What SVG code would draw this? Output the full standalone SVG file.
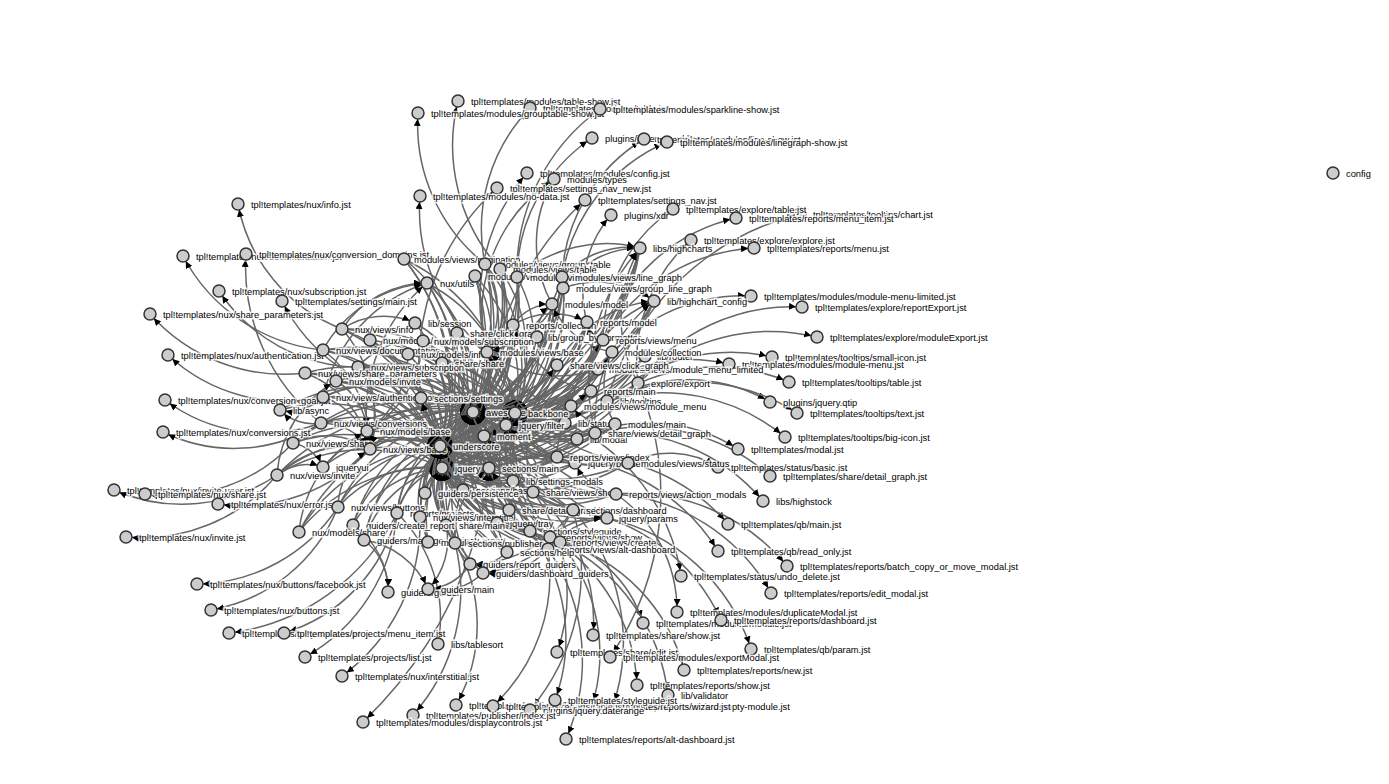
<svg xmlns="http://www.w3.org/2000/svg" width="1389" height="784" viewBox="0 0 1389 784">
<style>
#edges path{fill:none;stroke:#666;stroke-width:1.5px;marker-end:url(#arr)}
circle{fill:#ccc;stroke:#333;stroke-width:1.5px}
text{font-family:"Liberation Sans",Arial,sans-serif;font-size:9.3px;fill:#000;stroke:#fff;stroke-width:3px;stroke-opacity:.8;paint-order:stroke}
</style>
<defs>
<marker id="arr" viewBox="0 -5 10 10" refX="18.5" refY="0" markerWidth="7" markerHeight="7" markerUnits="userSpaceOnUse" orient="auto"><path d="M0,-5L10,0L0,5" fill="#000"/></marker>
</defs>
<rect width="1389" height="784" fill="#fff"/>
<g id="edges">
<path d="M342,329A164,164 0 0 1 473,412"/><path d="M342,329A207,207 0 0 1 515,413"/><path d="M342,329A156,156 0 0 1 440,446"/><path d="M342,329A179,179 0 0 1 442,468"/>
<path d="M323,350A175,175 0 0 1 473,412"/><path d="M323,350A217,217 0 0 1 515,413"/><path d="M323,350A155,155 0 0 1 440,446"/><path d="M323,350A166,166 0 0 1 442,468"/>
<path d="M370,340A132,132 0 0 1 473,412"/><path d="M370,340A134,134 0 0 1 440,446"/><path d="M370,340A157,157 0 0 1 442,468"/>
<path d="M423,341A91,91 0 0 1 473,412"/><path d="M423,341A121,121 0 0 1 515,413"/><path d="M423,341A112,112 0 0 1 440,446"/><path d="M423,341A135,135 0 0 1 442,468"/>
<path d="M408,354A88,88 0 0 1 473,412"/><path d="M408,354A131,131 0 0 1 515,413"/><path d="M408,354A105,105 0 0 1 440,446"/><path d="M408,354A128,128 0 0 1 442,468"/>
<path d="M358,367A133,133 0 0 1 473,412"/><path d="M358,367A175,175 0 0 1 515,413"/><path d="M358,367A114,114 0 0 1 440,446"/><path d="M358,367A135,135 0 0 1 442,468"/>
<path d="M305,373A184,184 0 0 1 473,412"/><path d="M305,373A164,164 0 0 1 440,446"/><path d="M305,373A175,175 0 0 1 442,468"/>
<path d="M336,381A149,149 0 0 1 473,412"/><path d="M336,381A130,130 0 0 1 440,446"/><path d="M336,381A141,141 0 0 1 442,468"/>
<path d="M323,397A156,156 0 0 1 473,412"/><path d="M323,397A198,198 0 0 1 515,413"/><path d="M323,397A137,137 0 0 1 440,446"/><path d="M323,397A147,147 0 0 1 442,468"/>
<path d="M421,398A58,58 0 0 1 473,412"/><path d="M421,398A100,100 0 0 1 515,413"/><path d="M421,398A56,56 0 0 1 440,446"/><path d="M421,398A78,78 0 0 1 442,468"/>
<path d="M280,410A194,194 0 0 1 473,412"/><path d="M280,410A174,174 0 0 1 440,446"/>
<path d="M321,423A156,156 0 0 1 473,412"/><path d="M321,423A128,128 0 0 1 440,446"/><path d="M321,423A139,139 0 0 1 442,468"/>
<path d="M367,431A114,114 0 0 1 473,412"/><path d="M367,431A155,155 0 0 1 515,413"/><path d="M367,431A79,79 0 0 1 440,446"/><path d="M367,431A90,90 0 0 1 442,468"/>
<path d="M370,449A118,118 0 0 1 473,412"/><path d="M370,449A159,159 0 0 1 515,413"/><path d="M370,449A71,71 0 0 1 440,446"/><path d="M370,449A80,80 0 0 1 442,468"/>
<path d="M293,443A192,192 0 0 1 473,412"/><path d="M293,443A148,148 0 0 1 440,446"/><path d="M293,443A159,159 0 0 1 442,468"/>
<path d="M323,467A172,172 0 0 1 473,412"/><path d="M323,467A125,125 0 0 1 440,446"/>
<path d="M277,475A221,221 0 0 1 473,412"/><path d="M277,475A175,175 0 0 1 440,446"/><path d="M277,475A168,168 0 0 1 442,468"/>
<path d="M338,507A173,173 0 0 1 473,412"/><path d="M338,507A126,126 0 0 1 440,446"/><path d="M338,507A120,120 0 0 1 442,468"/>
<path d="M299,532A222,222 0 0 1 473,412"/><path d="M299,532A175,175 0 0 1 440,446"/><path d="M299,532A169,169 0 0 1 442,468"/>
<path d="M353,525A165,165 0 0 1 473,412"/><path d="M353,525A119,119 0 0 1 440,446"/><path d="M353,525A112,112 0 0 1 442,468"/>
<path d="M364,540A172,172 0 0 1 473,412"/><path d="M364,540A124,124 0 0 1 440,446"/><path d="M364,540A109,109 0 0 1 442,468"/>
<path d="M397,513A131,131 0 0 1 473,412"/><path d="M397,513A158,158 0 0 1 515,413"/><path d="M397,513A84,84 0 0 1 440,446"/><path d="M397,513A63,63 0 0 1 442,468"/>
<path d="M420,517A126,126 0 0 1 473,412"/><path d="M420,517A79,79 0 0 1 440,446"/><path d="M420,517A58,58 0 0 1 442,468"/>
<path d="M427,283A147,147 0 0 1 473,412"/><path d="M427,283A165,165 0 0 1 515,413"/><path d="M427,283A168,168 0 0 1 440,446"/><path d="M427,283A191,191 0 0 1 442,468"/>
<path d="M404,259A181,181 0 0 1 473,412"/><path d="M404,259A198,198 0 0 1 515,413"/><path d="M404,259A201,201 0 0 1 440,446"/><path d="M404,259A224,224 0 0 1 442,468"/>
<path d="M415,323A112,112 0 0 1 473,412"/><path d="M415,323A133,133 0 0 1 440,446"/>
<path d="M457,333A85,85 0 0 1 473,412"/><path d="M457,333A103,103 0 0 1 515,413"/><path d="M457,333A120,120 0 0 1 440,446"/><path d="M457,333A141,141 0 0 1 442,468"/>
<path d="M442,363A61,61 0 0 1 473,412"/><path d="M442,363A93,93 0 0 1 515,413"/><path d="M442,363A84,84 0 0 1 440,446"/><path d="M442,363A105,105 0 0 1 442,468"/>
<path d="M485,264A153,153 0 0 1 473,412"/><path d="M485,264A161,161 0 0 1 515,413"/><path d="M485,264A200,200 0 0 1 440,446"/><path d="M485,264A221,221 0 0 1 442,468"/>
<path d="M500,269A154,154 0 0 1 473,412"/><path d="M500,269A150,150 0 0 1 515,413"/><path d="M500,269A201,201 0 0 1 440,446"/><path d="M500,269A222,222 0 0 1 442,468"/>
<path d="M475,276A137,137 0 0 1 473,412"/><path d="M475,276A153,153 0 0 1 515,413"/><path d="M475,276A184,184 0 0 1 440,446"/><path d="M475,276A205,205 0 0 1 442,468"/>
<path d="M517,277A153,153 0 0 1 473,412"/><path d="M517,277A137,137 0 0 1 515,413"/><path d="M517,277A200,200 0 0 1 440,446"/><path d="M517,277A221,221 0 0 1 442,468"/>
<path d="M562,277A171,171 0 0 1 473,412"/><path d="M562,277A155,155 0 0 1 515,413"/><path d="M562,277A218,218 0 0 1 440,446"/>
<path d="M563,288A160,160 0 0 1 473,412"/><path d="M563,288A144,144 0 0 1 515,413"/><path d="M563,288A207,207 0 0 1 440,446"/><path d="M563,288A228,228 0 0 1 442,468"/>
<path d="M552,304A140,140 0 0 1 473,412"/><path d="M552,304A124,124 0 0 1 515,413"/><path d="M552,304A187,187 0 0 1 440,446"/><path d="M552,304A208,208 0 0 1 442,468"/>
<path d="M654,301A225,225 0 0 1 473,412"/><path d="M654,301A184,184 0 0 1 515,413"/><path d="M654,301A272,272 0 0 1 440,446"/>
<path d="M640,248A233,233 0 0 1 473,412"/><path d="M640,248A215,215 0 0 1 515,413"/><path d="M640,248A280,280 0 0 1 440,446"/><path d="M640,248A299,299 0 0 1 442,468"/>
<path d="M513,325A103,103 0 0 1 473,412"/><path d="M513,325A89,89 0 0 1 515,413"/><path d="M513,325A150,150 0 0 1 440,446"/><path d="M513,325A171,171 0 0 1 442,468"/>
<path d="M587,322A150,150 0 0 1 473,412"/><path d="M587,322A120,120 0 0 1 515,413"/><path d="M587,322A197,197 0 0 1 440,446"/><path d="M587,322A204,204 0 0 1 442,468"/>
<path d="M537,337A101,101 0 0 1 473,412"/><path d="M537,337A85,85 0 0 1 515,413"/><path d="M537,337A148,148 0 0 1 440,446"/>
<path d="M603,340A159,159 0 0 1 473,412"/><path d="M603,340A117,117 0 0 1 515,413"/><path d="M603,340A205,205 0 0 1 440,446"/><path d="M603,340A225,225 0 0 1 442,468"/>
<path d="M487,352A66,66 0 0 1 473,412"/><path d="M487,352A72,72 0 0 1 515,413"/><path d="M487,352A113,113 0 0 1 440,446"/><path d="M487,352A134,134 0 0 1 442,468"/>
<path d="M612,352A163,163 0 0 1 473,412"/><path d="M612,352A121,121 0 0 1 515,413"/><path d="M612,352A210,210 0 0 1 440,446"/><path d="M612,352A216,216 0 0 1 442,468"/>
<path d="M557,365A103,103 0 0 1 473,412"/><path d="M557,365A65,65 0 0 1 515,413"/><path d="M557,365A149,149 0 0 1 440,446"/><path d="M557,365A156,156 0 0 1 442,468"/>
<path d="M598,369A142,142 0 0 1 473,412"/><path d="M598,369A101,101 0 0 1 515,413"/><path d="M598,369A189,189 0 0 1 440,446"/>
<path d="M645,356A194,194 0 0 1 473,412"/><path d="M645,356A153,153 0 0 1 515,413"/><path d="M645,356A241,241 0 0 1 440,446"/><path d="M645,356A248,248 0 0 1 442,468"/>
<path d="M638,383A177,177 0 0 1 473,412"/><path d="M638,383A135,135 0 0 1 515,413"/><path d="M638,383A223,223 0 0 1 440,446"/><path d="M638,383A230,230 0 0 1 442,468"/>
<path d="M591,391A126,126 0 0 1 473,412"/><path d="M591,391A85,85 0 0 1 515,413"/><path d="M591,391A173,173 0 0 1 440,446"/><path d="M591,391A180,180 0 0 1 442,468"/>
<path d="M607,401A138,138 0 0 1 473,412"/><path d="M607,401A97,97 0 0 1 515,413"/><path d="M607,401A185,185 0 0 1 440,446"/><path d="M607,401A192,192 0 0 1 442,468"/>
<path d="M571,406A100,100 0 0 1 473,412"/><path d="M571,406A59,59 0 0 1 515,413"/><path d="M571,406A147,147 0 0 1 440,446"/><path d="M571,406A154,154 0 0 1 442,468"/>
<path d="M565,423A96,96 0 0 1 473,412"/><path d="M565,423A54,54 0 0 1 515,413"/><path d="M565,423A134,134 0 0 1 440,446"/>
<path d="M615,424A147,147 0 0 1 473,412"/><path d="M615,424A104,104 0 0 1 515,413"/><path d="M615,424A184,184 0 0 1 440,446"/><path d="M615,424A191,191 0 0 1 442,468"/>
<path d="M595,433A130,130 0 0 1 473,412"/><path d="M595,433A88,88 0 0 1 515,413"/><path d="M595,433A160,160 0 0 1 440,446"/><path d="M595,433A167,167 0 0 1 442,468"/>
<path d="M577,439A115,115 0 0 1 473,412"/><path d="M577,439A72,72 0 0 1 515,413"/><path d="M577,439A140,140 0 0 1 440,446"/><path d="M577,439A147,147 0 0 1 442,468"/>
<path d="M557,457A102,102 0 0 1 473,412"/><path d="M557,457A60,60 0 0 1 515,413"/><path d="M557,457A121,121 0 0 1 440,446"/><path d="M557,457A119,119 0 0 1 442,468"/>
<path d="M575,463A122,122 0 0 1 473,412"/><path d="M575,463A80,80 0 0 1 515,413"/><path d="M575,463A142,142 0 0 1 440,446"/><path d="M575,463A135,135 0 0 1 442,468"/>
<path d="M628,463A175,175 0 0 1 473,412"/><path d="M628,463A133,133 0 0 1 515,413"/><path d="M628,463A195,195 0 0 1 440,446"/><path d="M628,463A188,188 0 0 1 442,468"/>
<path d="M489,468A62,62 0 0 1 473,412"/><path d="M489,468A65,65 0 0 1 515,413"/><path d="M489,468A58,58 0 0 1 440,446"/><path d="M489,468A47,47 0 0 1 442,468"/>
<path d="M513,481A85,85 0 0 1 473,412"/><path d="M513,481A69,69 0 0 1 515,413"/><path d="M513,481A87,87 0 0 1 440,446"/><path d="M513,481A76,76 0 0 1 442,468"/>
<path d="M463,490A82,82 0 0 1 473,412"/><path d="M463,490A98,98 0 0 1 515,413"/><path d="M463,490A53,53 0 0 1 440,446"/><path d="M463,490A30,30 0 0 1 442,468"/>
<path d="M425,493A100,100 0 0 1 473,412"/><path d="M425,493A122,122 0 0 1 515,413"/><path d="M425,493A53,53 0 0 1 440,446"/><path d="M425,493A32,32 0 0 1 442,468"/>
<path d="M533,492A104,104 0 0 1 473,412"/><path d="M533,492A86,86 0 0 1 515,413"/><path d="M533,492A111,111 0 0 1 440,446"/><path d="M533,492A101,101 0 0 1 442,468"/>
<path d="M616,494A176,176 0 0 1 473,412"/><path d="M616,494A133,133 0 0 1 515,413"/><path d="M616,494A195,195 0 0 1 440,446"/><path d="M616,494A184,184 0 0 1 442,468"/>
<path d="M509,510A112,112 0 0 1 473,412"/><path d="M509,510A99,99 0 0 1 515,413"/><path d="M509,510A95,95 0 0 1 440,446"/><path d="M509,510A84,84 0 0 1 442,468"/>
<path d="M573,510A140,140 0 0 1 473,412"/><path d="M573,510A120,120 0 0 1 515,413"/><path d="M573,510A159,159 0 0 1 440,446"/><path d="M573,510A148,148 0 0 1 442,468"/>
<path d="M607,518A176,176 0 0 1 473,412"/><path d="M607,518A142,142 0 0 1 515,413"/><path d="M607,518A196,196 0 0 1 440,446"/><path d="M607,518A185,185 0 0 1 442,468"/>
<path d="M446,525A124,124 0 0 1 473,412"/><path d="M446,525A140,140 0 0 1 515,413"/><path d="M446,525A81,81 0 0 1 440,446"/><path d="M446,525A59,59 0 0 1 442,468"/>
<path d="M530,531A142,142 0 0 1 473,412"/><path d="M530,531A124,124 0 0 1 515,413"/><path d="M530,531A124,124 0 0 1 440,446"/><path d="M530,531A113,113 0 0 1 442,468"/>
<path d="M550,537A156,156 0 0 1 473,412"/><path d="M550,537A138,138 0 0 1 515,413"/><path d="M550,537A146,146 0 0 1 440,446"/><path d="M550,537A136,136 0 0 1 442,468"/>
<path d="M560,542A165,165 0 0 1 473,412"/><path d="M560,542A147,147 0 0 1 515,413"/><path d="M560,542A158,158 0 0 1 440,446"/><path d="M560,542A148,148 0 0 1 442,468"/>
<path d="M455,543A138,138 0 0 1 473,412"/><path d="M455,543A154,154 0 0 1 515,413"/><path d="M455,543A103,103 0 0 1 440,446"/><path d="M455,543A80,80 0 0 1 442,468"/>
<path d="M428,542A148,148 0 0 1 473,412"/><path d="M428,542A101,101 0 0 1 440,446"/><path d="M428,542A80,80 0 0 1 442,468"/>
<path d="M507,552A154,154 0 0 1 473,412"/><path d="M507,552A142,142 0 0 1 515,413"/><path d="M507,552A133,133 0 0 1 440,446"/><path d="M507,552A110,110 0 0 1 442,468"/>
<path d="M548,549A167,167 0 0 1 473,412"/><path d="M548,549A149,149 0 0 1 515,413"/><path d="M548,549A149,149 0 0 1 440,446"/><path d="M548,549A138,138 0 0 1 442,468"/>
<path d="M497,523A121,121 0 0 1 473,412"/><path d="M497,523A117,117 0 0 1 515,413"/><path d="M497,523A100,100 0 0 1 440,446"/><path d="M497,523A77,77 0 0 1 442,468"/>
<path d="M470,564A153,153 0 0 1 473,412"/><path d="M470,564A107,107 0 0 1 442,468"/><path d="M483,573A121,121 0 0 1 442,468"/>
<path d="M484,436A28,28 0 0 1 473,412"/><path d="M484,436A48,48 0 0 1 440,446"/><path d="M484,436A40,40 0 0 1 515,413"/>
<path d="M506,425A38,38 0 0 1 473,412"/><path d="M506,425A16,16 0 0 1 515,413"/><path d="M506,425A74,74 0 0 1 440,446"/>
<path d="M573,510A119,119 0 0 1 484,436"/><path d="M557,457A81,81 0 0 1 484,436"/><path d="M587,322A155,155 0 0 1 484,436"/><path d="M616,494A155,155 0 0 1 484,436"/><path d="M560,542A136,136 0 0 1 484,436"/>
<path d="M628,463A137,137 0 0 1 506,425"/><path d="M557,457A64,64 0 0 1 506,425"/><path d="M550,537A130,130 0 0 1 506,425"/><path d="M573,510A112,112 0 0 1 506,425"/><path d="M603,340A131,131 0 0 1 506,425"/>
<path d="M500,269A185,185 0 0 1 458,101"/><path d="M485,264A178,178 0 0 1 418,113"/><path d="M485,264A174,174 0 0 1 530,108"/><path d="M517,277A201,201 0 0 1 600,109"/><path d="M517,277A169,169 0 0 1 592,138"/>
<path d="M562,277A171,171 0 0 1 644,139"/><path d="M562,277A177,177 0 0 1 667,142"/><path d="M487,352A195,195 0 0 1 527,173"/><path d="M552,304A126,126 0 0 1 554,179"/><path d="M487,352A160,160 0 0 1 554,179"/>
<path d="M421,398A240,240 0 0 1 497,188"/><path d="M487,352A183,183 0 0 1 420,196"/><path d="M489,468A306,306 0 0 1 585,200"/><path d="M587,322A117,117 0 0 1 611,215"/><path d="M603,340A159,159 0 0 1 673,209"/>
<path d="M603,340A182,182 0 0 1 736,218"/><path d="M607,401A268,268 0 0 1 800,214"/><path d="M638,383A164,164 0 0 1 691,240"/><path d="M603,340A188,188 0 0 1 754,248"/><path d="M598,369A182,182 0 0 1 751,296"/>
<path d="M638,383A194,194 0 0 1 802,307"/><path d="M638,383A197,197 0 0 1 817,337"/><path d="M607,401A183,183 0 0 1 772,357"/><path d="M571,406A175,175 0 0 1 729,364"/><path d="M607,401A190,190 0 0 1 789,382"/>
<path d="M607,401A163,163 0 0 1 770,402"/><path d="M607,401A195,195 0 0 1 797,413"/><path d="M607,401A192,192 0 0 1 785,437"/><path d="M577,439A165,165 0 0 1 738,449"/><path d="M628,463A92,92 0 0 1 718,467"/>
<path d="M595,433A192,192 0 0 1 770,476"/><path d="M595,433A195,195 0 0 1 763,501"/><path d="M557,457A198,198 0 0 1 728,524"/><path d="M557,457A199,199 0 0 1 718,551"/><path d="M616,494A200,200 0 0 1 787,566"/>
<path d="M565,423A199,199 0 0 1 681,576"/><path d="M616,494A195,195 0 0 1 771,593"/><path d="M616,494A142,142 0 0 1 677,612"/><path d="M550,537A127,127 0 0 1 643,623"/><path d="M573,510A192,192 0 0 1 721,620"/>
<path d="M607,518A196,196 0 0 1 751,649"/><path d="M533,492A167,167 0 0 1 593,635"/><path d="M533,492A170,170 0 0 1 557,652"/><path d="M638,383A285,285 0 0 1 610,657"/><path d="M560,542A178,178 0 0 1 684,670"/>
<path d="M550,537A183,183 0 0 1 637,685"/><path d="M560,542A196,196 0 0 1 668,695"/><path d="M530,531A179,179 0 0 1 555,700"/><path d="M560,542A177,177 0 0 1 592,706"/><path d="M573,510A200,200 0 0 1 613,706"/>
<path d="M455,543A162,162 0 0 1 456,705"/><path d="M548,549A179,179 0 0 1 493,706"/><path d="M573,510A217,217 0 0 1 530,710"/><path d="M455,543A189,189 0 0 1 413,715"/><path d="M487,352A420,420 0 0 1 363,722"/>
<path d="M548,549A197,197 0 0 1 566,739"/><path d="M338,507A172,172 0 0 1 197,584"/><path d="M338,507A168,168 0 0 1 211,610"/><path d="M397,513A216,216 0 0 1 229,633"/><path d="M397,513A165,165 0 0 1 284,633"/>
<path d="M397,513A181,181 0 0 1 305,657"/><path d="M420,517A190,190 0 0 1 342,676"/><path d="M397,513A147,147 0 0 1 438,644"/>
<path d="M353,525A81,81 0 0 1 388,592"/><path d="M364,540A62,62 0 0 1 388,592"/><path d="M470,564A52,52 0 0 1 428,589"/><path d="M483,573A61,61 0 0 1 428,589"/><path d="M364,540A84,84 0 0 1 428,589"/><path d="M446,525A71,71 0 0 1 428,589"/>
<path d="M573,510A125,125 0 0 1 470,564"/><path d="M507,552A42,42 0 0 1 470,564"/><path d="M573,510A115,115 0 0 1 483,573"/><path d="M548,549A75,75 0 0 1 483,573"/>
<path d="M342,329A167,167 0 0 1 238,204"/><path d="M323,350A178,178 0 0 1 183,256"/><path d="M321,423A199,199 0 0 1 246,254"/><path d="M358,367A169,169 0 0 1 219,291"/><path d="M421,398A178,178 0 0 1 282,301"/>
<path d="M305,373A179,179 0 0 1 150,314"/><path d="M323,397A172,172 0 0 1 168,355"/><path d="M321,423A165,165 0 0 1 165,400"/><path d="M321,423A162,162 0 0 1 163,432"/><path d="M277,475A169,169 0 0 1 114,490"/>
<path d="M293,443A168,168 0 0 1 145,494"/><path d="M370,449A174,174 0 0 1 218,504"/><path d="M277,475A176,176 0 0 1 126,537"/>
<path d="M342,329A131,131 0 0 1 370,449"/><path d="M342,329A103,103 0 0 1 427,283"/><path d="M323,350A118,118 0 0 1 370,449"/><path d="M323,350A131,131 0 0 1 427,283"/><path d="M358,367A87,87 0 0 1 370,449"/>
<path d="M358,367A75,75 0 0 1 423,341"/><path d="M305,373A102,102 0 0 1 370,449"/><path d="M336,381A62,62 0 0 1 367,431"/><path d="M323,397A71,71 0 0 1 370,449"/><path d="M323,397A156,156 0 0 1 427,283"/>
<path d="M321,423A59,59 0 0 1 370,449"/><path d="M321,423A49,49 0 0 1 367,431"/><path d="M293,443A79,79 0 0 1 370,449"/><path d="M277,475A103,103 0 0 1 370,449"/><path d="M277,475A118,118 0 0 1 336,381"/>
<path d="M338,507A71,71 0 0 1 370,449"/><path d="M299,532A128,128 0 0 1 367,431"/><path d="M277,475A49,49 0 0 1 323,467"/><path d="M293,443A42,42 0 0 1 323,467"/><path d="M321,423A46,46 0 0 1 280,410"/>
<path d="M323,397A48,48 0 0 1 280,410"/><path d="M367,431A172,172 0 0 1 427,283"/><path d="M408,354A93,93 0 0 1 367,431"/><path d="M423,341A112,112 0 0 1 367,431"/><path d="M342,329A75,75 0 0 1 415,323"/>
<path d="M500,269A88,88 0 0 1 487,352"/><path d="M485,264A89,89 0 0 1 487,352"/><path d="M517,277A87,87 0 0 1 487,352"/><path d="M562,277A105,105 0 0 1 487,352"/><path d="M563,288A102,102 0 0 1 487,352"/>
<path d="M563,288A96,96 0 0 1 654,301"/><path d="M562,277A90,90 0 0 1 640,248"/><path d="M563,288A93,93 0 0 1 640,248"/><path d="M517,277A135,135 0 0 1 640,248"/><path d="M513,325A75,75 0 0 1 587,322"/>
<path d="M513,325A47,47 0 0 1 552,304"/><path d="M603,340A25,25 0 0 1 587,322"/><path d="M612,352A79,79 0 0 1 552,304"/><path d="M591,391A56,56 0 0 1 603,340"/><path d="M591,391A104,104 0 0 1 513,325"/>
<path d="M615,424A73,73 0 0 1 612,352"/><path d="M615,424A51,51 0 0 1 571,406"/><path d="M571,406A106,106 0 0 1 487,352"/><path d="M571,406A138,138 0 0 1 654,301"/><path d="M638,383A136,136 0 0 1 640,248"/>
<path d="M598,369A118,118 0 0 1 487,352"/><path d="M628,463A185,185 0 0 1 487,352"/><path d="M557,457A80,80 0 0 1 591,391"/><path d="M595,433A156,156 0 0 1 654,301"/><path d="M595,433A203,203 0 0 1 640,248"/>
<path d="M557,365A123,123 0 0 1 654,301"/><path d="M537,337A39,39 0 0 1 552,304"/><path d="M489,468A97,97 0 0 1 421,398"/><path d="M513,481A125,125 0 0 1 421,398"/><path d="M573,510A101,101 0 0 1 489,468"/>
<path d="M530,531A79,79 0 0 1 489,468"/><path d="M507,552A91,91 0 0 1 489,468"/><path d="M455,543A89,89 0 0 1 489,468"/><path d="M533,492A189,189 0 0 1 457,333"/><path d="M533,492A137,137 0 0 1 557,365"/>
<path d="M573,510A37,37 0 0 1 607,518"/><path d="M548,549A83,83 0 0 1 607,518"/><path d="M550,537A80,80 0 0 1 607,518"/><path d="M616,494A57,57 0 0 1 575,463"/>
</g>
<g id="n-t1"><circle cx="458" cy="101" r="6"/><text x="471" y="104.5">tpl!templates/modules/table-show.jst</text></g>
<g id="n-t3"><circle cx="530" cy="108" r="6"/><text x="543" y="111.5">tpl!templates/modules/table.jst</text></g>
<g id="n-t2"><circle cx="418" cy="113" r="6"/><text x="431" y="116.5">tpl!templates/modules/grouptable-show.jst</text></g>
<g id="n-t4"><circle cx="600" cy="109" r="6"/><text x="613" y="112.5">tpl!templates/modules/sparkline-show.jst</text></g>
<g id="n-t5"><circle cx="592" cy="138" r="6"/><text x="605" y="141.5">plugins/jquery.sparkline</text></g>
<g id="n-t6"><circle cx="644" cy="139" r="6"/><text x="657" y="142.5">tpl!templates/modules/line-show.jst</text></g>
<g id="n-t7"><circle cx="667" cy="142" r="6"/><text x="680" y="145.5">tpl!templates/modules/linegraph-show.jst</text></g>
<g id="n-t8"><circle cx="527" cy="173" r="6"/><text x="540" y="176.5">tpl!templates/modules/config.jst</text></g>
<g id="n-t9"><circle cx="554" cy="179" r="6"/><text x="567" y="182.5">modules/types</text></g>
<g id="n-t10"><circle cx="497" cy="188" r="6"/><text x="510" y="191.5">tpl!templates/settings_nav_new.jst</text></g>
<g id="n-t11"><circle cx="420" cy="196" r="6"/><text x="433" y="199.5">tpl!templates/modules/no-data.jst</text></g>
<g id="n-t12"><circle cx="585" cy="200" r="6"/><text x="598" y="203.5">tpl!templates/settings_nav.jst</text></g>
<g id="n-t13"><circle cx="611" cy="215" r="6"/><text x="624" y="218.5">plugins/xdr</text></g>
<g id="n-t16"><circle cx="800" cy="214" r="6"/><text x="813" y="217.5">tpl!templates/tooltips/chart.jst</text></g>
<g id="n-t14"><circle cx="673" cy="209" r="6"/><text x="686" y="212.5">tpl!templates/explore/table.jst</text></g>
<g id="n-t15"><circle cx="736" cy="218" r="6"/><text x="749" y="221.5">tpl!templates/reports/menu_item.jst</text></g>
<g id="n-t17"><circle cx="691" cy="240" r="6"/><text x="704" y="243.5">tpl!templates/explore/explore.jst</text></g>
<g id="n-t18"><circle cx="754" cy="248" r="6"/><text x="767" y="251.5">tpl!templates/reports/menu.jst</text></g>
<g id="n-t19"><circle cx="751" cy="296" r="6"/><text x="764" y="299.5">tpl!templates/modules/module-menu-limited.jst</text></g>
<g id="n-t20"><circle cx="802" cy="307" r="6"/><text x="815" y="310.5">tpl!templates/explore/reportExport.jst</text></g>
<g id="n-t21"><circle cx="817" cy="337" r="6"/><text x="830" y="340.5">tpl!templates/explore/moduleExport.jst</text></g>
<g id="n-t22"><circle cx="772" cy="357" r="6"/><text x="785" y="360.5">tpl!templates/tooltips/small-icon.jst</text></g>
<g id="n-t23"><circle cx="729" cy="364" r="6"/><text x="742" y="367.5">tpl!templates/modules/module-menu.jst</text></g>
<g id="n-t24"><circle cx="789" cy="382" r="6"/><text x="802" y="385.5">tpl!templates/tooltips/table.jst</text></g>
<g id="n-t25"><circle cx="770" cy="402" r="6"/><text x="783" y="405.5">plugins/jquery.qtip</text></g>
<g id="n-t26"><circle cx="797" cy="413" r="6"/><text x="810" y="416.5">tpl!templates/tooltips/text.jst</text></g>
<g id="n-t27"><circle cx="785" cy="437" r="6"/><text x="798" y="440.5">tpl!templates/tooltips/big-icon.jst</text></g>
<g id="n-t28"><circle cx="738" cy="449" r="6"/><text x="751" y="452.5">tpl!templates/modal.jst</text></g>
<g id="n-t29"><circle cx="718" cy="467" r="6"/><text x="731" y="470.5">tpl!templates/status/basic.jst</text></g>
<g id="n-t30"><circle cx="770" cy="476" r="6"/><text x="783" y="479.5">tpl!templates/share/detail_graph.jst</text></g>
<g id="n-t31"><circle cx="763" cy="501" r="6"/><text x="776" y="504.5">libs/highstock</text></g>
<g id="n-t32"><circle cx="728" cy="524" r="6"/><text x="741" y="527.5">tpl!templates/qb/main.jst</text></g>
<g id="n-t33"><circle cx="718" cy="551" r="6"/><text x="731" y="554.5">tpl!templates/qb/read_only.jst</text></g>
<g id="n-t34"><circle cx="787" cy="566" r="6"/><text x="800" y="569.5">tpl!templates/reports/batch_copy_or_move_modal.jst</text></g>
<g id="n-t35"><circle cx="681" cy="576" r="6"/><text x="694" y="579.5">tpl!templates/status/undo_delete.jst</text></g>
<g id="n-t36"><circle cx="771" cy="593" r="6"/><text x="784" y="596.5">tpl!templates/reports/edit_modal.jst</text></g>
<g id="n-t37"><circle cx="677" cy="612" r="6"/><text x="690" y="615.5">tpl!templates/modules/duplicateModal.jst</text></g>
<g id="n-t38"><circle cx="643" cy="623" r="6"/><text x="656" y="626.5">tpl!templates/modules/module.jst</text></g>
<g id="n-t39"><circle cx="721" cy="620" r="6"/><text x="734" y="623.5">tpl!templates/reports/dashboard.jst</text></g>
<g id="n-t40"><circle cx="751" cy="649" r="6"/><text x="764" y="652.5">tpl!templates/qb/param.jst</text></g>
<g id="n-t41"><circle cx="593" cy="635" r="6"/><text x="606" y="638.5">tpl!templates/share/show.jst</text></g>
<g id="n-t42"><circle cx="557" cy="652" r="6"/><text x="570" y="655.5">tpl!templates/share/edit.jst</text></g>
<g id="n-t43"><circle cx="610" cy="657" r="6"/><text x="623" y="660.5">tpl!templates/modules/exportModal.jst</text></g>
<g id="n-t44"><circle cx="684" cy="670" r="6"/><text x="697" y="673.5">tpl!templates/reports/new.jst</text></g>
<g id="n-t45"><circle cx="637" cy="685" r="6"/><text x="650" y="688.5">tpl!templates/reports/show.jst</text></g>
<g id="n-t46"><circle cx="668" cy="695" r="6"/><text x="681" y="698.5">lib/validator</text></g>
<g id="n-t48b"><circle cx="613" cy="706" r="6"/><text x="626" y="709.5">tpl!templates/modules/empty-module.jst</text></g>
<g id="n-t48"><circle cx="592" cy="706" r="6"/><text x="605" y="709.5">tpl!templates/reports/wizard.jst</text></g>
<g id="n-t49"><circle cx="456" cy="705" r="6"/><text x="469" y="708.5">tpl!templates/publisher/list.jst</text></g>
<g id="n-t50"><circle cx="493" cy="706" r="6"/><text x="506" y="709.5">tpl!templates/reports/table.jst</text></g>
<g id="n-t47"><circle cx="555" cy="700" r="6"/><text x="568" y="703.5">tpl!templates/styleguide.jst</text></g>
<g id="n-t51"><circle cx="530" cy="710" r="6"/><text x="543" y="713.5">plugins/jquery.daterange</text></g>
<g id="n-t52"><circle cx="413" cy="715" r="6"/><text x="426" y="718.5">tpl!templates/publisher/index.jst</text></g>
<g id="n-t53"><circle cx="363" cy="722" r="6"/><text x="376" y="725.5">tpl!templates/modules/displaycontrols.jst</text></g>
<g id="n-t54"><circle cx="566" cy="739" r="6"/><text x="579" y="742.5">tpl!templates/reports/alt-dashboard.jst</text></g>
<g id="n-t55"><circle cx="197" cy="584" r="6"/><text x="210" y="587.5">tpl!templates/nux/buttons/facebook.jst</text></g>
<g id="n-t56"><circle cx="211" cy="610" r="6"/><text x="224" y="613.5">tpl!templates/nux/buttons.jst</text></g>
<g id="n-t57"><circle cx="229" cy="633" r="6"/><text x="242" y="636.5">tpl!templates/projects/new.jst</text></g>
<g id="n-t58"><circle cx="284" cy="633" r="6"/><text x="297" y="636.5">tpl!templates/projects/menu_item.jst</text></g>
<g id="n-t59"><circle cx="305" cy="657" r="6"/><text x="318" y="660.5">tpl!templates/projects/list.jst</text></g>
<g id="n-t60"><circle cx="342" cy="676" r="6"/><text x="355" y="679.5">tpl!templates/nux/interstitial.jst</text></g>
<g id="n-t61"><circle cx="438" cy="644" r="6"/><text x="451" y="647.5">libs/tablesort</text></g>
<g id="n-g1"><circle cx="388" cy="592" r="6"/><text x="401" y="595.5">guiders/guider</text></g>
<g id="n-g2"><circle cx="428" cy="589" r="6"/><text x="441" y="592.5">guiders/main</text></g>
<g id="n-g3"><circle cx="470" cy="564" r="6"/><text x="483" y="567.5">guiders/report_guiders</text></g>
<g id="n-g4"><circle cx="483" cy="573" r="6"/><text x="496" y="576.5">guiders/dashboard_guiders</text></g>
<g id="n-t62"><circle cx="238" cy="204" r="6"/><text x="251" y="207.5">tpl!templates/nux/info.jst</text></g>
<g id="n-t63"><circle cx="183" cy="256" r="6"/><text x="196" y="259.5">tpl!templates/nux/documentation.jst</text></g>
<g id="n-t64"><circle cx="246" cy="254" r="6"/><text x="259" y="257.5">tpl!templates/nux/conversion_domains.jst</text></g>
<g id="n-t65"><circle cx="219" cy="291" r="6"/><text x="232" y="294.5">tpl!templates/nux/subscription.jst</text></g>
<g id="n-t66"><circle cx="282" cy="301" r="6"/><text x="295" y="304.5">tpl!templates/settings/main.jst</text></g>
<g id="n-t67"><circle cx="150" cy="314" r="6"/><text x="163" y="317.5">tpl!templates/nux/share_parameters.jst</text></g>
<g id="n-t68"><circle cx="168" cy="355" r="6"/><text x="181" y="358.5">tpl!templates/nux/authentication.jst</text></g>
<g id="n-t69"><circle cx="165" cy="400" r="6"/><text x="178" y="403.5">tpl!templates/nux/conversion_goal.jst</text></g>
<g id="n-t70"><circle cx="163" cy="432" r="6"/><text x="176" y="435.5">tpl!templates/nux/conversions.jst</text></g>
<g id="n-t71"><circle cx="114" cy="490" r="6"/><text x="127" y="493.5">tpl!templates/nux/invite-user.jst</text></g>
<g id="n-t72"><circle cx="145" cy="494" r="6"/><text x="158" y="497.5">tpl!templates/nux/share.jst</text></g>
<g id="n-t73"><circle cx="218" cy="504" r="6"/><text x="231" y="507.5">tpl!templates/nux/error.jst</text></g>
<g id="n-t74"><circle cx="126" cy="537" r="6"/><text x="139" y="540.5">tpl!templates/nux/invite.jst</text></g>
<g id="n-config"><circle cx="1333" cy="173" r="6"/><text x="1346" y="176.5">config</text></g>
<g id="n-m25"><circle cx="404" cy="259" r="6"/><text x="414" y="262.5">modules/views/pagination</text></g>
<g id="n-m24"><circle cx="427" cy="283" r="6"/><text x="440" y="286.5">nux/utils</text></g>
<g id="n-m30"><circle cx="485" cy="264" r="6"/><text x="498" y="267.5">modules/views/group_table</text></g>
<g id="n-m31"><circle cx="500" cy="269" r="6"/><text x="513" y="272.5">modules/views/table</text></g>
<g id="n-m32"><circle cx="475" cy="276" r="6"/><text x="488" y="279.5">modules/views/example</text></g>
<g id="n-m33"><circle cx="517" cy="277" r="6"/><text x="530" y="280.5">modules/views/spark_line</text></g>
<g id="n-m34"><circle cx="562" cy="277" r="6"/><text x="575" y="280.5">modules/views/line_graph</text></g>
<g id="n-m35"><circle cx="563" cy="288" r="6"/><text x="576" y="291.5">modules/views/group_line_graph</text></g>
<g id="n-m38"><circle cx="640" cy="248" r="6"/><text x="653" y="251.5">libs/highcharts</text></g>
<g id="n-m36"><circle cx="552" cy="304" r="6"/><text x="565" y="307.5">modules/model</text></g>
<g id="n-m37"><circle cx="654" cy="301" r="6"/><text x="667" y="304.5">lib/highchart_config</text></g>
<g id="n-m1"><circle cx="342" cy="329" r="6"/><text x="355" y="332.5">nux/views/info</text></g>
<g id="n-m26"><circle cx="415" cy="323" r="6"/><text x="428" y="326.5">lib/session</text></g>
<g id="n-m39"><circle cx="513" cy="325" r="6"/><text x="526" y="328.5">reports/collection</text></g>
<g id="n-m40"><circle cx="587" cy="322" r="6"/><text x="600" y="325.5">reports/model</text></g>
<g id="n-m27"><circle cx="457" cy="333" r="6"/><text x="470" y="336.5">share/click_graph</text></g>
<g id="n-m41"><circle cx="537" cy="337" r="6"/><text x="548" y="340.5">lib/group_by_formatter</text></g>
<g id="n-m42"><circle cx="603" cy="340" r="6"/><text x="616" y="343.5">reports/views/menu</text></g>
<g id="n-m3"><circle cx="370" cy="340" r="6"/><text x="383" y="343.5">nux/models/conversion</text></g>
<g id="n-m4"><circle cx="423" cy="341" r="6"/><text x="434" y="344.5">nux/models/subscription</text></g>
<g id="n-m2"><circle cx="323" cy="350" r="6"/><text x="336" y="353.5">nux/views/documentation</text></g>
<g id="n-m5"><circle cx="408" cy="354" r="6"/><text x="421" y="357.5">nux/models/info</text></g>
<g id="n-m43"><circle cx="487" cy="352" r="6"/><text x="500" y="355.5">modules/views/base</text></g>
<g id="n-m47"><circle cx="645" cy="356" r="6"/><text x="657" y="359.5">lib/router</text></g>
<g id="n-m44"><circle cx="612" cy="352" r="6"/><text x="625" y="355.5">modules/collection</text></g>
<g id="n-m28"><circle cx="442" cy="363" r="6"/><text x="455" y="366.5">share/share</text></g>
<g id="n-m6"><circle cx="358" cy="367" r="6"/><text x="371" y="370.5">nux/views/subscription</text></g>
<g id="n-m46"><circle cx="598" cy="369" r="6"/><text x="609" y="372.5">modules/views/module_menu_limited</text></g>
<g id="n-m45"><circle cx="557" cy="365" r="6"/><text x="570" y="368.5">share/views/click_graph</text></g>
<g id="n-m7"><circle cx="305" cy="373" r="6"/><text x="318" y="376.5">nux/views/share_parameters</text></g>
<g id="n-m8"><circle cx="336" cy="381" r="6"/><text x="349" y="384.5">nux/models/invite</text></g>
<g id="n-m48"><circle cx="638" cy="383" r="6"/><text x="651" y="386.5">explore/export</text></g>
<g id="n-m49"><circle cx="591" cy="391" r="6"/><text x="604" y="394.5">reports/main</text></g>
<g id="n-m9"><circle cx="323" cy="397" r="6"/><text x="336" y="400.5">nux/views/authentication</text></g>
<g id="n-m10"><circle cx="421" cy="398" r="6"/><text x="434" y="401.5">sections/settings</text></g>
<g id="n-m50"><circle cx="607" cy="401" r="6"/><text x="620" y="404.5">lib/tooltips</text></g>
<g id="n-m51"><circle cx="571" cy="406" r="6"/><text x="584" y="409.5">modules/views/module_menu</text></g>
<g id="n-m11"><circle cx="280" cy="410" r="6"/><text x="293" y="413.5">lib/async</text></g>
<g id="n-m12"><circle cx="321" cy="423" r="6"/><text x="334" y="426.5">nux/views/conversions</text></g>
<g id="n-m13"><circle cx="367" cy="431" r="6"/><text x="380" y="434.5">nux/models/base</text></g>
<g id="n-m52"><circle cx="565" cy="423" r="6"/><text x="578" y="426.5">lib/status</text></g>
<g id="n-m53"><circle cx="615" cy="424" r="6"/><text x="628" y="427.5">modules/main</text></g>
<g id="n-m55"><circle cx="577" cy="439" r="6"/><text x="590" y="442.5">lib/modal</text></g>
<g id="n-m54"><circle cx="595" cy="433" r="6"/><text x="608" y="436.5">share/views/detail_graph</text></g>
<g id="n-m15"><circle cx="293" cy="443" r="6"/><text x="306" y="446.5">nux/views/share</text></g>
<g id="n-m14"><circle cx="370" cy="449" r="6"/><text x="383" y="452.5">nux/views/base</text></g>
<g id="n-m57"><circle cx="575" cy="463" r="6"/><text x="588" y="466.5">jquery/builder</text></g>
<g id="n-m56"><circle cx="557" cy="457" r="6"/><text x="570" y="460.5">reports/views/index</text></g>
<g id="n-m58"><circle cx="628" cy="463" r="6"/><text x="641" y="466.5">modules/views/status</text></g>
<g id="n-m16"><circle cx="323" cy="467" r="6"/><text x="336" y="470.5">jqueryui</text></g>
<g id="n-m17"><circle cx="277" cy="475" r="6"/><text x="290" y="478.5">nux/views/invite</text></g>
<g id="n-m59"><circle cx="489" cy="468" r="6"/><text x="502" y="471.5">sections/main</text></g>
<g id="n-m60"><circle cx="513" cy="481" r="6"/><text x="526" y="484.5">lib/settings-modals</text></g>
<g id="n-m61"><circle cx="463" cy="490" r="6"/><text x="476" y="493.5">sections/base</text></g>
<g id="n-m62"><circle cx="425" cy="493" r="6"/><text x="438" y="496.5">guiders/persistence</text></g>
<g id="n-m63"><circle cx="533" cy="492" r="6"/><text x="546" y="495.5">share/views/show</text></g>
<g id="n-m64"><circle cx="616" cy="494" r="6"/><text x="629" y="497.5">reports/views/action_modals</text></g>
<g id="n-m18"><circle cx="338" cy="507" r="6"/><text x="351" y="510.5">nux/views/buttons</text></g>
<g id="n-m22"><circle cx="397" cy="513" r="6"/><text x="410" y="516.5">reports/projects</text></g>
<g id="n-m23"><circle cx="420" cy="517" r="6"/><text x="433" y="520.5">nux/views/interstitial</text></g>
<g id="n-m65"><circle cx="509" cy="510" r="6"/><text x="522" y="513.5">share/detail_graph</text></g>
<g id="n-m66"><circle cx="573" cy="510" r="6"/><text x="586" y="513.5">sections/dashboard</text></g>
<g id="n-m67"><circle cx="607" cy="518" r="6"/><text x="619" y="521.5">jquery/params</text></g>
<g id="n-m76"><circle cx="497" cy="523" r="6"/><text x="510" y="526.5">jquery/tray</text></g>
<g id="n-m68"><circle cx="446" cy="525" r="6"/><text x="459" y="528.5">share/main</text></g>
<g id="n-m20"><circle cx="353" cy="525" r="6"/><text x="366" y="528.5">guiders/create_report</text></g>
<g id="n-m19"><circle cx="299" cy="532" r="6"/><text x="312" y="535.5">nux/models/share</text></g>
<g id="n-m21"><circle cx="364" cy="540" r="6"/><text x="377" y="543.5">guiders/manage_project_report</text></g>
<g id="n-m73"><circle cx="428" cy="542" r="6"/><text x="441" y="545.5">modules/share</text></g>
<g id="n-m72"><circle cx="455" cy="543" r="6"/><text x="468" y="546.5">sections/publisher</text></g>
<g id="n-m69"><circle cx="530" cy="531" r="6"/><text x="543" y="534.5">sections/styleguide</text></g>
<g id="n-m70"><circle cx="550" cy="537" r="6"/><text x="563" y="540.5">reports/views/show</text></g>
<g id="n-m71"><circle cx="560" cy="542" r="6"/><text x="573" y="545.5">reports/views/create</text></g>
<g id="n-m75"><circle cx="548" cy="549" r="6"/><text x="561" y="552.5">reports/views/alt-dashboard</text></g>
<g id="n-m74"><circle cx="507" cy="552" r="6"/><text x="520" y="555.5">sections/help</text></g>
<g id="n-h6"><circle cx="506" cy="425" r="6"/><text x="519" y="428.5">jquery/filter</text></g>
<g id="n-h5"><circle cx="484" cy="436" r="6"/><text x="497" y="439.5">moment</text></g>
<g id="n-awesome"><circle cx="473" cy="412" r="6"/><text x="486" y="415.5">awesome</text></g>
<g id="n-backbone"><circle cx="515" cy="413" r="6"/><text x="528" y="416.5">backbone</text></g>
<g id="n-underscore"><circle cx="440" cy="446" r="6"/><text x="453" y="449.5">underscore</text></g>
<g id="n-jquery"><circle cx="442" cy="468" r="6"/><text x="455" y="471.5">jquery</text></g>
</svg>
